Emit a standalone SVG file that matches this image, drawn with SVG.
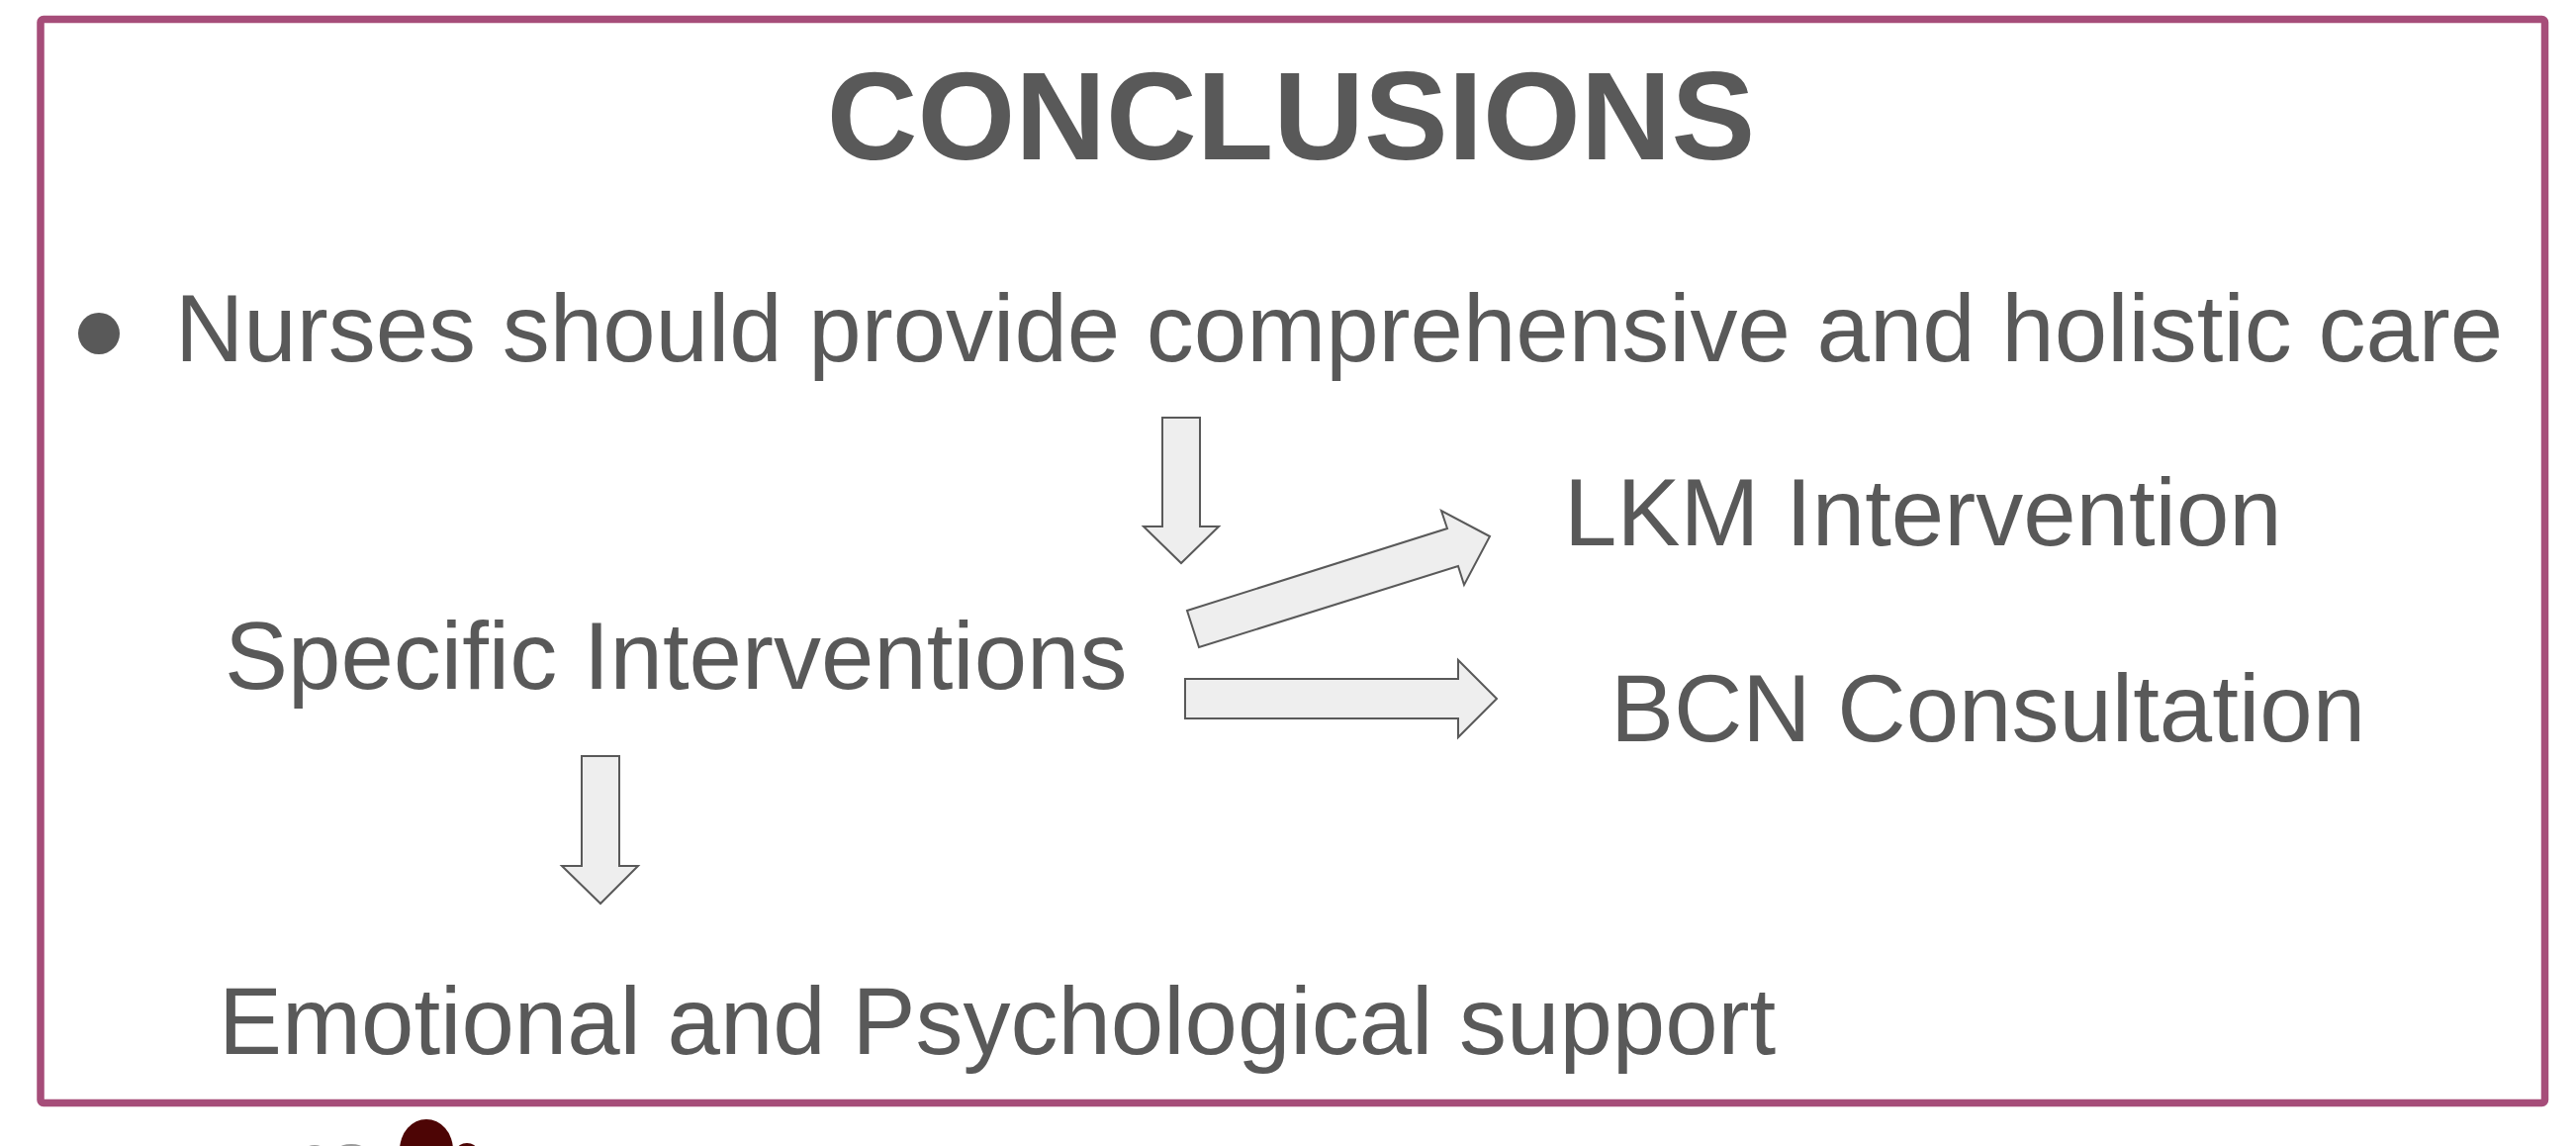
<svg xmlns="http://www.w3.org/2000/svg" width="2604" height="1158" viewBox="0 0 2604 1158">
<style>
.t{font-family:"Liberation Sans",Arial,sans-serif;fill:#595959;font-size:96px}
.title{font-family:"Liberation Sans",Arial,sans-serif;fill:#595959;font-size:127px;font-weight:bold}
.arrow{fill:#eeeeee;stroke:#595959;stroke-width:2;stroke-linejoin:miter}
</style>
<rect x="0" y="0" width="2604" height="1158" fill="#ffffff"/>
<rect id="frame" x="41" y="19.5" width="2531.5" height="1095" rx="3" fill="none" stroke="#a64d79" stroke-width="7.5"/>
<g id="logo">
<ellipse cx="431" cy="1162" rx="27" ry="31" fill="#4d0505"/>
<ellipse cx="472" cy="1162" rx="10" ry="7" fill="#4d0505"/>
<ellipse cx="318" cy="1160" rx="8" ry="3" fill="#9a9a9a"/>
<ellipse cx="355" cy="1160" rx="12" ry="4" fill="#9a9a9a"/>
</g>
<g id="title"><text class="title" x="1305" y="161" text-anchor="middle">CONCLUSIONS</text></g>
<g id="bullet-main">
<circle cx="100" cy="337" r="21" fill="#595959"/>
<text class="t" x="177" y="365">Nurses should provide comprehensive and holistic care</text>
</g>
<g id="specific"><text class="t" x="227" y="696">Specific Interventions</text></g>
<g id="lkm"><text class="t" x="1581" y="551">LKM Intervention</text></g>
<g id="bcn"><text class="t" x="1628" y="749">BCN Consultation</text></g>
<g id="emotional"><text class="t" x="221" y="1065">Emotional and Psychological support</text></g>
<g id="connectors">
<polygon class="arrow" points="1175,422 1213,422 1213,532 1232,532 1194,569 1156,532 1175,532"/>
<polygon class="arrow" points="1200,617 1463,534 1457,516 1506,542 1480,591 1474,572 1212,654"/>
<polygon class="arrow" points="1198,686 1474,686 1474,667 1513,706 1474,745 1474,726 1198,726"/>
<polygon class="arrow" points="588,764 626,764 626,875 645,875 607,913 568,875 588,875"/>
</g>
</svg>
